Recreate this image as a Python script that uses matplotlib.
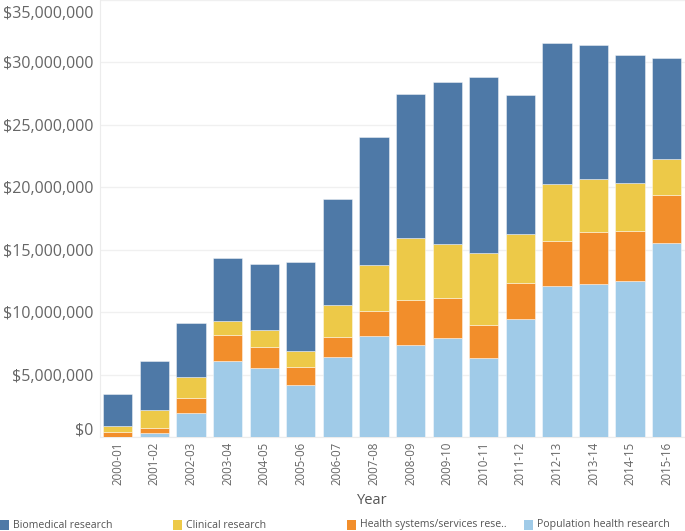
import matplotlib
matplotlib.use("Agg")
import matplotlib.pyplot as plt
import matplotlib.transforms as mtransforms
from matplotlib.patches import Rectangle
from matplotlib.ticker import FuncFormatter
import numpy as np

plt.rcParams['font.family'] = ['Open Sans', 'DejaVu Sans']

years = ["2000-01", "2001-02", "2002-03", "2003-04", "2004-05", "2005-06", "2006-07", "2007-08",
         "2008-09", "2009-10", "2010-11", "2011-12", "2012-13", "2013-14", "2014-15", "2015-16"]

# values in millions of dollars
population = [0.0, 0.30, 1.90, 6.10, 5.54, 4.17, 6.42, 8.05, 7.38, 7.89, 6.34, 9.47, 12.09, 12.26, 12.46, 15.51]
health_sys = [0.38, 0.40, 1.21, 2.09, 1.63, 1.45, 1.55, 2.06, 3.59, 3.24, 2.65, 2.83, 3.62, 4.17, 4.02, 3.91]
clinical = [0.53, 1.47, 1.71, 1.14, 1.42, 1.23, 2.57, 3.64, 4.94, 4.30, 5.78, 3.97, 4.57, 4.22, 3.85, 2.81]
biomedical = [2.54, 3.93, 4.31, 5.04, 5.29, 7.19, 8.56, 10.27, 11.54, 12.98, 14.10, 11.12, 11.28, 10.75, 10.30, 8.11]

series_names = ["Biomedical research", "Clinical research", "Health systems/services rese..", "Population health research"]
colors = {"bio": "#4e79a7", "cli": "#edc948", "hs": "#f28e2b", "pop": "#a0cbe8"}

W, H = 685, 531
fig = plt.figure(figsize=(W / 100, H / 100), dpi=100)
ax = fig.add_axes([99.5 / W, 1 - 437 / H, (685 - 99.5) / W, 437 / H])

x = np.arange(len(years))
scale = 1e6
stack = [(population, colors["pop"]), (health_sys, colors["hs"]),
         (clinical, colors["cli"]), (biomedical, colors["bio"])]
bottom = np.zeros(len(years))
for vals, c in stack:
    v = np.array(vals) * scale
    ax.bar(x, v, bottom=bottom, width=0.8, color=c, edgecolor=(1, 1, 1, 0.5), linewidth=0.6, zorder=3)
    bottom += v

ax.set_xlim(-0.5, len(years) - 0.5)
ax.set_ylim(0, 35e6)
ax.set_yticks(np.arange(0, 35e6 + 1, 5e6))
ax.yaxis.set_major_formatter(FuncFormatter(lambda v, p: f"${v:,.0f}"))
ax.set_xticks(x)
ax.set_xticklabels(years, rotation=90)

ax.tick_params(axis='y', length=0, pad=4.5, labelsize=11.5, labelcolor="#666666")
ax.tick_params(axis='x', length=0, pad=3.5, labelsize=8.3, labelcolor="#666666")
ax.grid(axis='y', color="#f0f0f0", linewidth=1, zorder=0)
for s in ["top", "right"]:
    ax.spines[s].set_visible(False)
for s in ["left", "bottom"]:
    ax.spines[s].set_color("#ececec")
    ax.spines[s].set_linewidth(0.8)

# shift extreme y labels inside like the reference
ylabels = ax.get_yticklabels()
ylabels[-1].set_transform(ylabels[-1].get_transform() + mtransforms.ScaledTranslation(0, -12 / 100, fig.dpi_scale_trans))
ylabels[0].set_transform(ylabels[0].get_transform() + mtransforms.ScaledTranslation(0, 8.5 / 100, fig.dpi_scale_trans))

fig.text(372 / W, 1 - 500 / H, "Year", ha="center", va="center", fontsize=10.5, color="#555555")

# legend
leg_colors = [colors["bio"], colors["cli"], colors["hs"], colors["pop"]]
sq_x = [0, 173, 347, 524]
for name, c, sx in zip(series_names, leg_colors, sq_x):
    fig.patches.append(Rectangle((sx / W, 1 - 530 / H), 9 / W, 10 / H, transform=fig.transFigure,
                                 facecolor=c, edgecolor="none"))
    fig.text((sx + 13) / W, 1 - 525 / H, name, ha="left", va="center", fontsize=7.6, color="#555555")

fig.savefig("out.png", dpi=100)
